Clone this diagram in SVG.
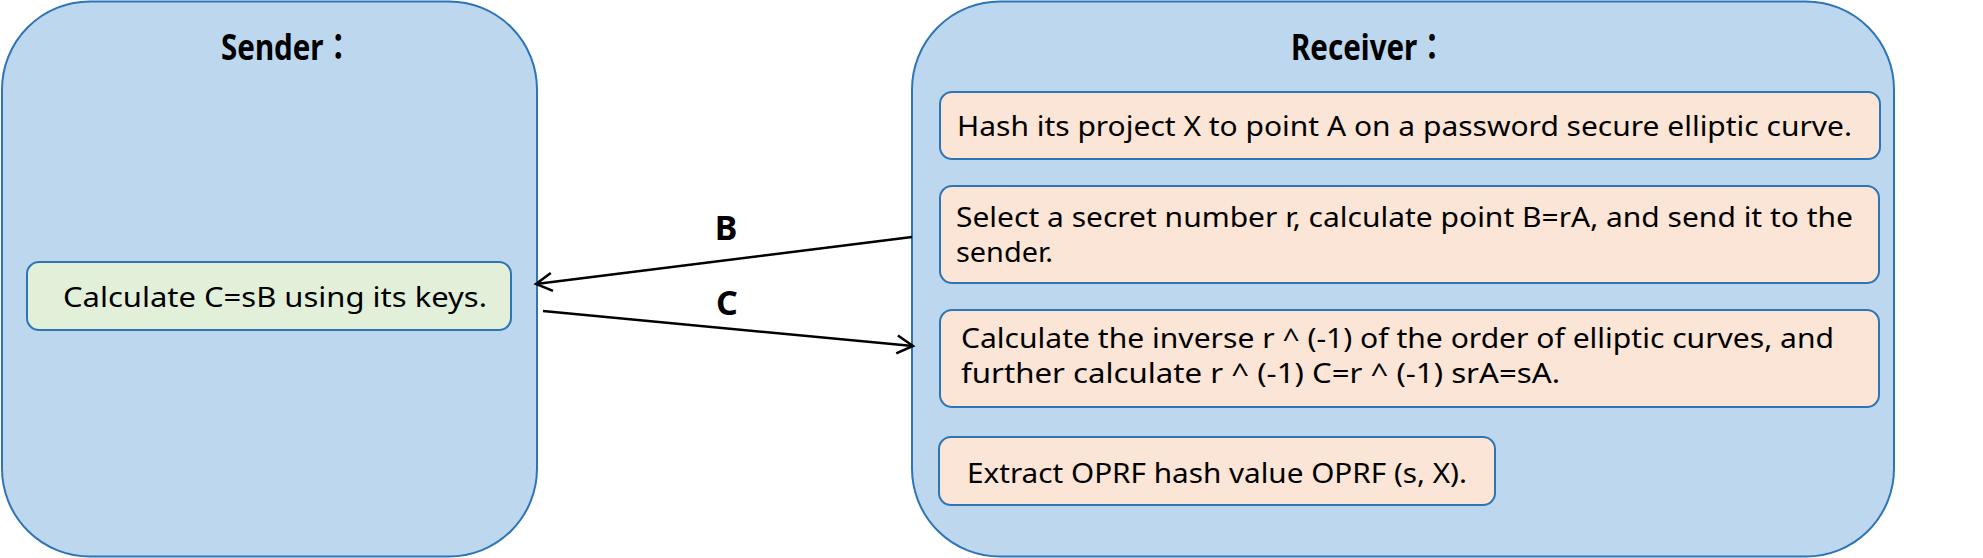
<svg xmlns="http://www.w3.org/2000/svg" width="1983" height="558" viewBox="0 0 1983 558">
<style>
.panel{fill:#BDD7EE;stroke:#2E75B6;stroke-width:2}
.green{fill:#E2F0D9;stroke:#2E75B6;stroke-width:2}
.peach{fill:#FBE5D6;stroke:#2E75B6;stroke-width:2}
.title{font-family:"Noto Sans","Noto Sans CJK JP","Noto Sans CJK SC",sans-serif;font-weight:bold;font-size:36px;fill:#000}
.body{font-family:"Noto Sans","Liberation Sans",sans-serif;font-size:28px;fill:#000}
.lbl{font-family:"Noto Sans","Liberation Sans",sans-serif;font-weight:bold;font-size:34px;fill:#000;text-anchor:middle}
.conn{stroke:#000;stroke-width:2.5;fill:none}
</style>
<defs>
<marker id="arr" markerUnits="userSpaceOnUse" markerWidth="30" markerHeight="30" viewBox="-20 -15 30 30" refX="0" refY="0" orient="auto">
<path d="M -16 -9 L 0 0 L -16 9" fill="none" stroke="#000" stroke-width="2.5"/>
</marker>
</defs>
<g id="sender">
<rect class="panel" x="2" y="1.5" width="535" height="555" rx="88" ry="88"/>
<text class="title" transform="translate(221,60) scale(0.82,1)" x="0" y="0">Sender：</text>
</g>
<g id="sender-step">
<rect class="green" x="27" y="262" width="484" height="68" rx="12" ry="12"/>
<text class="body" x="63" y="307" textLength="424" lengthAdjust="spacingAndGlyphs">Calculate C=sB using its keys.</text>
</g>
<g id="receiver">
<rect class="panel" x="912" y="1.5" width="982" height="555" rx="88" ry="88"/>
<text class="title" transform="translate(1291,60) scale(0.82,1)" x="0" y="0">Receiver：</text>
</g>
<g id="receiver-step1">
<rect class="peach" x="940" y="92" width="940" height="67" rx="12" ry="12"/>
<text class="body" x="957" y="136" textLength="895" lengthAdjust="spacingAndGlyphs">Hash its project X to point A on a password secure elliptic curve.</text>
</g>
<g id="receiver-step2">
<rect class="peach" x="940" y="186" width="939" height="97" rx="12" ry="12"/>
<text class="body" x="956" y="227" textLength="897" lengthAdjust="spacingAndGlyphs">Select a secret number r, calculate point B=rA, and send it to the</text>
<text class="body" x="956" y="262" textLength="97" lengthAdjust="spacingAndGlyphs">sender.</text>
</g>
<g id="receiver-step3">
<rect class="peach" x="940" y="310" width="939" height="97" rx="12" ry="12"/>
<text class="body" x="961" y="348" textLength="873" lengthAdjust="spacingAndGlyphs">Calculate the inverse r ^ (-1) of the order of elliptic curves, and</text>
<text class="body" x="961" y="383" textLength="599" lengthAdjust="spacingAndGlyphs">further calculate r ^ (-1) C=r ^ (-1) srA=sA.</text>
</g>
<g id="receiver-step4">
<rect class="peach" x="939" y="437" width="556" height="68" rx="12" ry="12"/>
<text class="body" x="967" y="483" textLength="500" lengthAdjust="spacingAndGlyphs">Extract OPRF hash value OPRF (s, X).</text>
</g>
<g id="connectors">
<line class="conn" x1="912" y1="237" x2="536" y2="284" marker-end="url(#arr)"/>
<text class="lbl" x="726" y="240">B</text>
<line class="conn" x1="543" y1="311" x2="913" y2="346" marker-end="url(#arr)"/>
<text class="lbl" x="727" y="315">C</text>
</g>
</svg>
